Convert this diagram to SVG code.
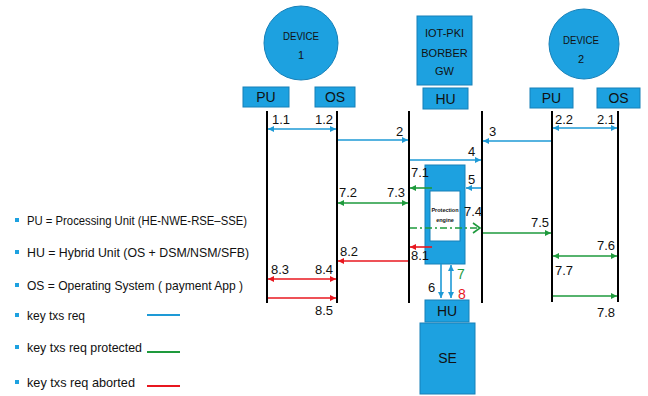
<svg xmlns="http://www.w3.org/2000/svg" width="648" height="396" viewBox="0 0 648 396">
<style>
.nd{fill:#1DA1E0;stroke:#1780B8;stroke-width:1}
.wt{fill:#fff;stroke:#1780B8;stroke-width:1}
.t{font-family:"Liberation Sans",Arial,sans-serif;fill:#111}
.nl{font-size:14px;text-anchor:middle}
.sl{font-size:11px;text-anchor:middle}
.lb{font-size:13px}
.lg{font-size:13px}
.life{stroke:#000;stroke-width:2}
.b{stroke:#1E9AD6;stroke-width:1.6;fill:none}
.g{stroke:#1E9A3C;stroke-width:1.6;fill:none}
.r{stroke:#E8171F;stroke-width:1.6;fill:none}
.bul{fill:#1DA1E0}
</style>
<defs>
<marker id="ab" markerUnits="userSpaceOnUse" markerWidth="7" markerHeight="7" refX="6" refY="3.5" orient="auto-start-reverse"><path d="M0,0.5 L6,3.5 L0,6.5 Z" fill="#1E9AD6"/></marker>
<marker id="ag" markerUnits="userSpaceOnUse" markerWidth="7" markerHeight="7" refX="6" refY="3.5" orient="auto-start-reverse"><path d="M0,0.5 L6,3.5 L0,6.5 Z" fill="#1E9A3C"/></marker>
<marker id="ar" markerUnits="userSpaceOnUse" markerWidth="7" markerHeight="7" refX="6" refY="3.5" orient="auto-start-reverse"><path d="M0,0.5 L6,3.5 L0,6.5 Z" fill="#E8171F"/></marker>
<marker id="ao" markerUnits="userSpaceOnUse" markerWidth="10" markerHeight="12" refX="8" refY="6" orient="auto"><path d="M1,1 L8,6 L1,11" fill="none" stroke="#1E9A3C" stroke-width="1.6"/></marker>
</defs>

<g id="device1">
<circle class="nd" cx="301" cy="43" r="37"/>
<text class="t sl" x="301" y="40" textLength="36" lengthAdjust="spacingAndGlyphs">DEVICE</text>
<text class="t sl" x="301" y="59">1</text>
</g>
<g id="pu1"><rect class="nd" x="243" y="87" width="46" height="20"/><text class="t nl" x="266" y="102">PU</text></g>
<g id="os1"><rect class="nd" x="315" y="87" width="40" height="20"/><text class="t nl" x="335" y="102">OS</text></g>

<g id="gw">
<rect class="nd" x="417" y="16" width="55" height="69"/>
<text class="t sl" x="444.5" y="37">IOT-PKI</text>
<text class="t sl" x="444.5" y="57">BORBER</text>
<text class="t sl" x="444.5" y="75">GW</text>
</g>
<g id="hu"><rect class="nd" x="423" y="88" width="45" height="21"/><text class="t nl" x="445.5" y="104">HU</text></g>

<g id="device2">
<circle class="nd" cx="584" cy="44" r="35"/>
<text class="t sl" x="581" y="44" textLength="36" lengthAdjust="spacingAndGlyphs">DEVICE</text>
<text class="t sl" x="581" y="63">2</text>
</g>
<g id="pu2"><rect class="nd" x="530" y="88" width="43" height="20"/><text class="t nl" x="551.5" y="103">PU</text></g>
<g id="os2"><rect class="nd" x="597" y="88" width="43" height="20"/><text class="t nl" x="618.5" y="103">OS</text></g>

<g id="lifelines">
<line class="life" x1="267" y1="111" x2="267" y2="303"/>
<line class="life" x1="337" y1="111" x2="337" y2="303"/>
<line class="life" x1="409" y1="111" x2="409" y2="303"/>
<line class="life" x1="482" y1="111" x2="482" y2="303"/>
<line class="life" x1="552" y1="111" x2="552" y2="302"/>
<line class="life" x1="618" y1="111" x2="618" y2="302"/>
</g>

<g id="engine">
<rect class="nd" x="425" y="165" width="40" height="99"/>
<rect class="wt" x="430" y="191" width="30" height="50"/>
<text class="t" x="445" y="212" font-size="5.5" font-weight="bold" text-anchor="middle">Protection</text>
<text class="t" x="445" y="222" font-size="5.5" font-weight="bold" text-anchor="middle">engine</text>
</g>

<g id="hu2"><rect class="nd" x="425" y="300" width="44" height="22"/><text class="t nl" x="447" y="316">HU</text></g>
<g id="se"><rect class="nd" x="420" y="323" width="55" height="71"/><text class="t nl" x="447.5" y="363">SE</text></g>

<g id="connectors">
<line class="b" x1="268" y1="129" x2="336" y2="129" marker-start="url(#ab)" marker-end="url(#ab)"/>
<line class="b" x1="553" y1="128" x2="617" y2="128" marker-start="url(#ab)" marker-end="url(#ab)"/>
<line class="b" x1="338" y1="140" x2="408" y2="140" marker-end="url(#ab)"/>
<line class="b" x1="551" y1="141" x2="483" y2="141" marker-end="url(#ab)"/>
<line class="b" x1="410" y1="160" x2="481" y2="160" marker-end="url(#ab)"/>
<line class="b" x1="481" y1="188" x2="466" y2="188" marker-end="url(#ab)"/>
<line class="g" x1="432" y1="188" x2="410" y2="188" marker-end="url(#ag)"/>
<line class="g" x1="338" y1="203" x2="408" y2="203" marker-start="url(#ag)" marker-end="url(#ag)"/>
<line class="g" x1="410" y1="228" x2="480" y2="228" stroke-dasharray="7 3 2 3" marker-end="url(#ao)"/>
<line class="g" x1="483" y1="233" x2="551" y2="233" marker-end="url(#ag)"/>
<line class="g" x1="553" y1="256" x2="617" y2="256" marker-start="url(#ag)" marker-end="url(#ag)"/>
<line class="g" x1="553" y1="296" x2="617" y2="296" marker-end="url(#ag)"/>
<line class="r" x1="432" y1="247" x2="410" y2="247" marker-end="url(#ar)"/>
<line class="r" x1="408" y1="261" x2="338" y2="261" marker-end="url(#ar)"/>
<line class="r" x1="268" y1="279" x2="336" y2="279" marker-start="url(#ar)" marker-end="url(#ar)"/>
<line class="r" x1="268" y1="298" x2="336" y2="298" marker-end="url(#ar)"/>
<line class="b" x1="441" y1="264" x2="441" y2="298" marker-end="url(#ab)"/>
<line class="b" x1="451" y1="298" x2="451" y2="265" marker-start="url(#ab)" marker-end="url(#ab)"/>
</g>

<g id="labels">
<text class="t lb" x="272" y="124">1.1</text>
<text class="t lb" x="333" y="124" text-anchor="end">1.2</text>
<text class="t lb" x="555" y="124">2.2</text>
<text class="t lb" x="615" y="124" text-anchor="end">2.1</text>
<text class="t lb" x="396" y="136">2</text>
<text class="t lb" x="489" y="136">3</text>
<text class="t lb" x="468" y="156">4</text>
<text class="t lb" x="468" y="184">5</text>
<text class="t lb" x="411" y="177">7.1</text>
<text class="t lb" x="339" y="197">7.2</text>
<text class="t lb" x="405" y="197" text-anchor="end">7.3</text>
<text class="t lb" x="464" y="216">7.4</text>
<text class="t lb" x="549" y="227" text-anchor="end">7.5</text>
<text class="t lb" x="615" y="250" text-anchor="end">7.6</text>
<text class="t lb" x="555" y="275">7.7</text>
<text class="t lb" x="615" y="317" text-anchor="end">7.8</text>
<text class="t lb" x="411" y="260">8.1</text>
<text class="t lb" x="340" y="256">8.2</text>
<text class="t lb" x="271" y="274">8.3</text>
<text class="t lb" x="333" y="274" text-anchor="end">8.4</text>
<text class="t lb" x="333" y="315" text-anchor="end">8.5</text>
<text class="t lb" x="428" y="292">6</text>
<text class="t" x="457" y="279" font-size="14" style="fill:#1E9A3C">7</text>
<text class="t" x="458" y="299" font-size="14" style="fill:#E8171F">8</text>
</g>

<g id="legend">
<rect class="bul" x="15" y="218" width="4" height="4"/>
<text class="t lg" x="27" y="225" textLength="220" lengthAdjust="spacingAndGlyphs">PU = Processing Unit (HE-NWE-RSE–SSE)</text>
<rect class="bul" x="15" y="250" width="4" height="4"/>
<text class="t lg" x="27" y="257" textLength="222" lengthAdjust="spacingAndGlyphs">HU = Hybrid Unit (OS + DSM/NSM/SFB)</text>
<rect class="bul" x="15" y="283" width="4" height="4"/>
<text class="t lg" x="27" y="290" textLength="216" lengthAdjust="spacingAndGlyphs">OS = Operating System ( payment App )</text>
<rect class="bul" x="15" y="313" width="4" height="4"/>
<text class="t lg" x="27" y="320" textLength="58" lengthAdjust="spacingAndGlyphs">key txs req</text>
<line x1="147" y1="315" x2="180" y2="315" stroke="#1E9AD6" stroke-width="2"/>
<rect class="bul" x="15" y="345" width="4" height="4"/>
<text class="t lg" x="27" y="352" textLength="115" lengthAdjust="spacingAndGlyphs">key txs req protected</text>
<line x1="147" y1="352" x2="180" y2="352" stroke="#1E9A3C" stroke-width="2"/>
<rect class="bul" x="15" y="380" width="4" height="4"/>
<text class="t lg" x="27" y="387" textLength="108" lengthAdjust="spacingAndGlyphs">key txs req aborted</text>
<line x1="147" y1="386" x2="180" y2="386" stroke="#E8171F" stroke-width="2"/>
</g>
</svg>
